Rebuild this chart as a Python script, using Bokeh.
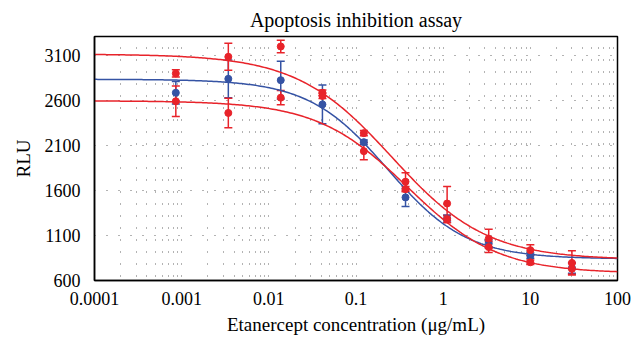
import numpy as np
from bokeh.plotting import figure
from bokeh.models import ColumnDataSource, FixedTicker, Whisker, TeeHead, Range1d
from bokeh.embed import file_html
from bokeh.resources import INLINE

# ---- data ----
conc = [0.000857, 0.00343, 0.0137, 0.0412, 0.123, 0.370, 1.11, 3.33, 10.0, 30.0]

blue_rlu = [2690, 2845, 2830, 2560, 2140, 1525, 1290, 1010, 877, 740]
blue_err = [125, 210, 210, 215, 25, 100, 40, 40, 30, 60]

red1_rlu = [2905, 3090, 3205, 2690, 2240, 1700, 1457, 1065, 938, 796]
red1_err = [40, 150, 70, 30, 30, 100, 190, 105, 60, 135]

red2_rlu = [2595, 2465, 2635, 2655, 2040, 1617, 1284, 972, 803, 730]
red2_err = [170, 165, 80, 30, 95, 30, 40, 60, 25, 60]

# 4-parameter logistic fit parameters: top, bottom, EC50, Hill slope
blue_fit = [2840, 840, 0.23, 0.96]
red1_fit = [3120, 830, 0.257, 0.794]
red2_fit = [2600, 680, 0.39, 0.836]

x_ticks = [0.0001, 0.001, 0.01, 0.1, 1, 10, 100]
x_tick_labels = ["0.0001", "0.001", "0.01", "0.1", "1", "10", "100"]
y_ticks = [600, 1100, 1600, 2100, 2600, 3100]

RED = "#E8232A"
BLUE = "#3553A4"
SERIF = "Liberation Serif"


def four_pl(x, top, bottom, ec50, hill):
    return bottom + (top - bottom) / (1.0 + (x / ec50) ** hill)


p = figure(width=634, height=348, x_axis_type="log",
           x_range=Range1d(1e-4, 100), y_range=Range1d(600, 3316),
           output_backend="svg", toolbar_location=None,
           title="Apoptosis inhibition assay")
p.min_border_left = 94
p.min_border_right = 17
p.min_border_top = 35
p.min_border_bottom = 68
p.background_fill_color = "white"
p.border_fill_color = "white"
p.outline_line_color = "black"
p.outline_line_width = 1.5

p.title.align = "center"
p.title.text_font = SERIF
p.title.text_font_style = "normal"
p.title.text_font_size = "20px"
p.title.text_color = "black"
p.title.standoff = 12

# axes
p.xaxis.ticker = FixedTicker(ticks=x_ticks)
p.xaxis.major_label_overrides = {t: l for t, l in zip(x_ticks, x_tick_labels)}
p.yaxis.ticker = FixedTicker(ticks=y_ticks)
for ax in (p.xaxis, p.yaxis):
    ax.axis_line_color = "black"
    ax.axis_line_width = 1.5
    ax.major_tick_line_color = None
    ax.minor_tick_line_color = None
    ax.major_label_text_font = SERIF
    ax.major_label_text_font_size = "18px"
    ax.major_label_text_color = "black"
    ax.axis_label_text_font = SERIF
    ax.axis_label_text_font_style = "normal"
    ax.axis_label_text_font_size = "19px"
    ax.axis_label_text_color = "black"
p.xaxis.major_label_standoff = 5
p.yaxis.major_label_standoff = 8
p.xaxis.axis_label = "Etanercept concentration (\u03bcg/mL)"
p.yaxis.axis_label = "RLU"
p.xaxis.axis_label_standoff = 6
p.yaxis.axis_label_standoff = 8

# dotted grid
minor_x = [k * 10.0 ** d for d in range(-4, 2) for k in range(1, 10)] + [100.0]
p.xgrid.ticker = FixedTicker(ticks=minor_x)
p.xgrid.grid_line_color = "#666666"
p.xgrid.grid_line_dash = "1 11"
p.xgrid.grid_line_dash_offset = 8
p.xgrid.grid_line_width = 1
p.ygrid.ticker = FixedTicker(ticks=y_ticks)
p.ygrid.grid_line_color = "#666666"
p.ygrid.grid_line_dash = "1 11"
p.ygrid.grid_line_width = 1

# fitted curves
xs = np.logspace(-4, 2, 300)
for fit, col in ((blue_fit, BLUE), (red1_fit, RED), (red2_fit, RED)):
    p.line(xs, four_pl(xs, *fit), line_color=col, line_width=1.5)

# points with error bars
for vals, errs, col in ((blue_rlu, blue_err, BLUE), (red1_rlu, red1_err, RED),
                        (red2_rlu, red2_err, RED)):
    v = np.array(vals, dtype=float)
    e = np.array(errs, dtype=float)
    src = ColumnDataSource(dict(x=conc, y=v, upper=v + e, lower=v - e))
    w = Whisker(source=src, base="x", upper="upper", lower="lower",
                line_color=col, line_width=1.5,
                upper_head=TeeHead(size=8, line_color=col, line_width=1.5),
                lower_head=TeeHead(size=8, line_color=col, line_width=1.5))
    p.add_layout(w)
    p.scatter("x", "y", source=src, size=7, color=col)

open("out.html", "w").write(file_html(p, INLINE))
